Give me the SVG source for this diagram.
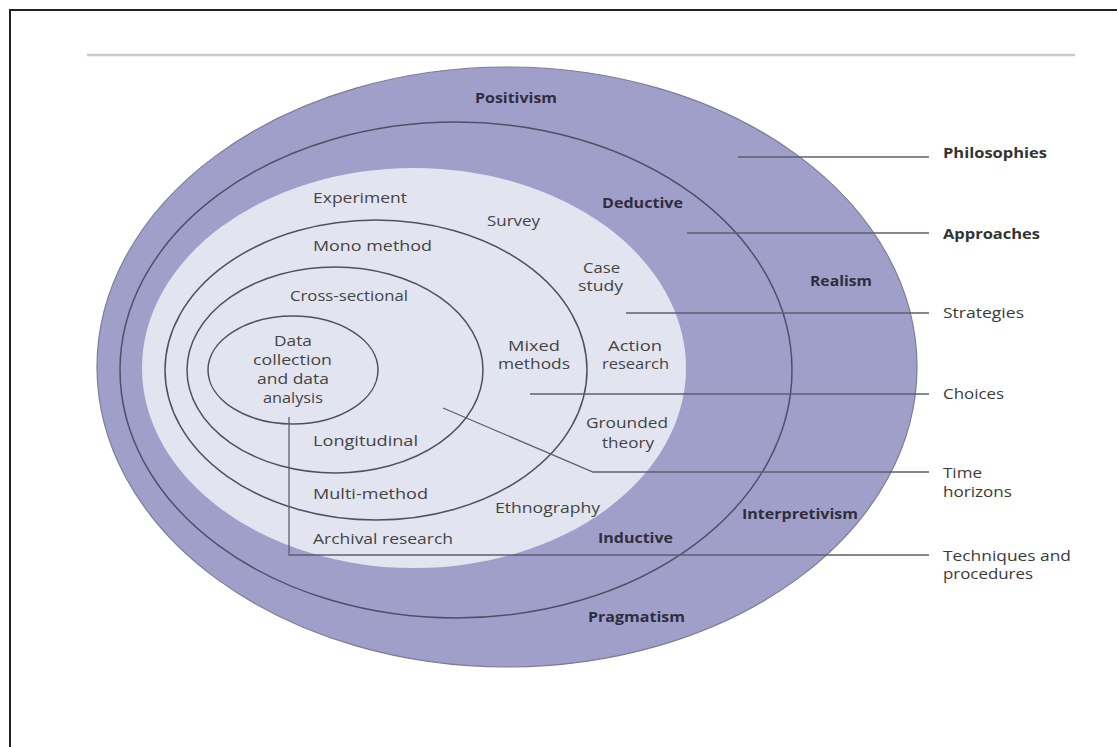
<svg xmlns="http://www.w3.org/2000/svg" width="1117" height="747" viewBox="0 0 1117 747">
<style>
text{font-family:"Open Sans","DejaVu Sans","Liberation Sans",sans-serif;font-size:14px;}
.b{font-weight:bold;fill:#2e2e3e;}
.r{fill:#444;}
.lb{font-weight:bold;fill:#333;}
.lr{fill:#3a3a3a;}
.ring{fill:none;stroke:#4e5068;stroke-width:1.5;}
.conn{fill:none;stroke:#5e5e70;stroke-width:1.3;}
</style>
<rect width="1117" height="747" fill="#fff"/>
<path d="M10,747 V10 H1117" fill="none" stroke="#222" stroke-width="2"/>
<line x1="87" y1="55" x2="1075" y2="55" stroke="#c9c9c9" stroke-width="2.5"/>

<g id="philosophies">
<ellipse cx="507" cy="367" rx="410" ry="300" fill="#a09fca" stroke="#7c7c94" stroke-width="1.2"/>
<text class="b" x="475" y="103" textLength="82" lengthAdjust="spacingAndGlyphs">Positivism</text>
<text class="b" x="810" y="286" textLength="62" lengthAdjust="spacingAndGlyphs">Realism</text>
<text class="b" x="742" y="519" textLength="116" lengthAdjust="spacingAndGlyphs">Interpretivism</text>
<text class="b" x="588" y="622" textLength="97" lengthAdjust="spacingAndGlyphs">Pragmatism</text>
</g>

<g id="approaches">
<ellipse class="ring" cx="456" cy="370" rx="336" ry="248"/>
<text class="b" x="602" y="208" textLength="81" lengthAdjust="spacingAndGlyphs">Deductive</text>
<text class="b" x="598" y="543" textLength="75" lengthAdjust="spacingAndGlyphs">Inductive</text>
</g>

<g id="strategies">
<ellipse cx="414" cy="368" rx="272" ry="200" fill="#e2e4f0"/>
<text class="r" x="313" y="203" textLength="94" lengthAdjust="spacingAndGlyphs">Experiment</text>
<text class="r" x="487" y="225.5" textLength="53" lengthAdjust="spacingAndGlyphs">Survey</text>
<text class="r" x="583" y="272.5" textLength="37" lengthAdjust="spacingAndGlyphs">Case</text>
<text class="r" x="578" y="291" textLength="45" lengthAdjust="spacingAndGlyphs">study</text>
<text class="r" x="608" y="350.5" textLength="54" lengthAdjust="spacingAndGlyphs">Action</text>
<text class="r" x="602" y="368.5" textLength="67" lengthAdjust="spacingAndGlyphs">research</text>
<text class="r" x="586" y="427.5" textLength="82" lengthAdjust="spacingAndGlyphs">Grounded</text>
<text class="r" x="602" y="447.5" textLength="52" lengthAdjust="spacingAndGlyphs">theory</text>
<text class="r" x="495" y="512.5" textLength="105" lengthAdjust="spacingAndGlyphs">Ethnography</text>
<text class="r" x="313" y="543.5" textLength="140" lengthAdjust="spacingAndGlyphs">Archival research</text>
</g>

<g id="choices">
<ellipse class="ring" cx="376" cy="370" rx="211" ry="150"/>
<text class="r" x="313" y="250.5" textLength="119" lengthAdjust="spacingAndGlyphs">Mono method</text>
<text class="r" x="508" y="350.5" textLength="52" lengthAdjust="spacingAndGlyphs">Mixed</text>
<text class="r" x="498" y="368.5" textLength="72" lengthAdjust="spacingAndGlyphs">methods</text>
<text class="r" x="313" y="498.5" textLength="115" lengthAdjust="spacingAndGlyphs">Multi-method</text>
</g>

<g id="time-horizons">
<ellipse class="ring" cx="335" cy="370" rx="148" ry="103"/>
<text class="r" x="290" y="300.5" textLength="118" lengthAdjust="spacingAndGlyphs">Cross-sectional</text>
<text class="r" x="313" y="445.5" textLength="105" lengthAdjust="spacingAndGlyphs">Longitudinal</text>
</g>

<g id="techniques">
<ellipse class="ring" cx="293" cy="370" rx="85" ry="54"/>
<text class="r" x="274" y="346" textLength="38" lengthAdjust="spacingAndGlyphs">Data</text>
<text class="r" x="253" y="365" textLength="79" lengthAdjust="spacingAndGlyphs">collection</text>
<text class="r" x="257" y="384" textLength="72" lengthAdjust="spacingAndGlyphs">and data</text>
<text class="r" x="263" y="403" textLength="60" lengthAdjust="spacingAndGlyphs">analysis</text>
</g>

<g id="connectors">
<line class="conn" x1="738" y1="157" x2="929" y2="157"/>
<line class="conn" x1="687" y1="233" x2="929" y2="233"/>
<line class="conn" x1="626" y1="313" x2="929" y2="313"/>
<line class="conn" x1="530" y1="394" x2="929" y2="394"/>
<polyline class="conn" points="443,408 593,472 929,472"/>
<polyline class="conn" points="289,417 289,555 929,555"/>
</g>

<g id="labels">
<text class="lb" x="943" y="157.5" textLength="104" lengthAdjust="spacingAndGlyphs">Philosophies</text>
<text class="lb" x="943" y="238.5" textLength="97" lengthAdjust="spacingAndGlyphs">Approaches</text>
<text class="lr" x="943" y="317.5" textLength="81" lengthAdjust="spacingAndGlyphs">Strategies</text>
<text class="lr" x="943" y="398.5" textLength="61" lengthAdjust="spacingAndGlyphs">Choices</text>
<text class="lr" x="943" y="478" textLength="39" lengthAdjust="spacingAndGlyphs">Time</text>
<text class="lr" x="943" y="497" textLength="69" lengthAdjust="spacingAndGlyphs">horizons</text>
<text class="lr" x="943" y="560.5" textLength="128" lengthAdjust="spacingAndGlyphs">Techniques and</text>
<text class="lr" x="943" y="579" textLength="90" lengthAdjust="spacingAndGlyphs">procedures</text>
</g>
</svg>
